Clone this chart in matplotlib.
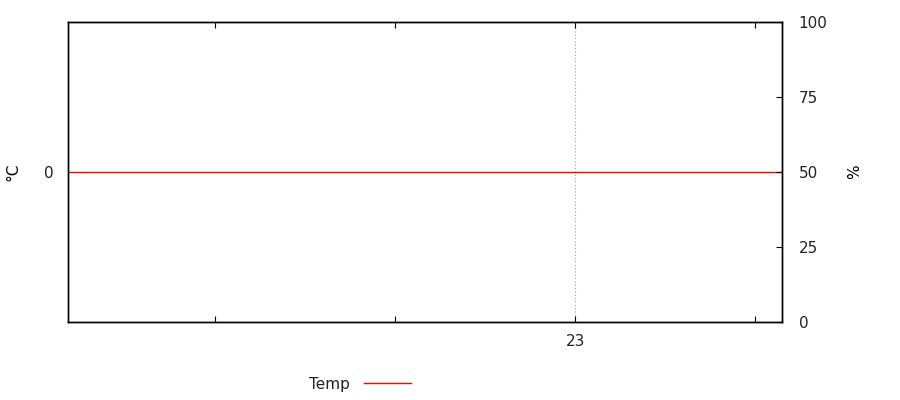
import matplotlib
matplotlib.use("Agg")
import matplotlib.pyplot as plt

# time in hours, temperature in °C
hours = [20.18, 24.15]
temp = [0, 0]
xticks = [21, 22, 23, 24]
xlabels = ["", "", "23", ""]
rh_ticks = [0, 25, 50, 75, 100]

plt.rcParams["font.family"] = "DejaVu Sans"
plt.rcParams["font.size"] = 11
plt.rcParams["text.color"] = "#222222"

fig = plt.figure(figsize=(9, 4), dpi=100)
ax = fig.add_axes([68/900, 78/400, 714/900, 300/400])

ax.plot(hours, temp, "-", color="red", lw=1, label="Temp")
ax.set_xlim(hours[0], hours[-1])
ax.set_ylim(-1, 1)
ax.set_yticks([0])
ax.set_xticks(xticks)
ax.set_xticklabels(xlabels)
ax.axvline(23, color="#a0a0a0", lw=0.8, ls=(0, (1, 2)), zorder=0)
ax.tick_params(axis="x", direction="in", length=4, width=0.8, top=True, pad=9,
               labelcolor="#222222")
ax.tick_params(axis="y", direction="in", length=0, pad=10, labelcolor="#222222")
ax.set_ylabel("°C", labelpad=17)

ax2 = ax.twinx()
ax2.set_ylim(0, 100)
ax2.set_yticks(rh_ticks)
ax2.tick_params(axis="y", direction="in", length=4, width=0.8, pad=12,
                labelcolor="#222222")
ax2.set_ylabel("%", labelpad=14)

for a in (ax, ax2):
    for s in a.spines.values():
        s.set_linewidth(1)

leg = ax.legend(loc="center", bbox_to_anchor=(360/900, 16/400),
                bbox_transform=fig.transFigure, frameon=False,
                markerfirst=False, handlelength=3.1, handletextpad=0.9)

fig.savefig("out.png", dpi=100)
